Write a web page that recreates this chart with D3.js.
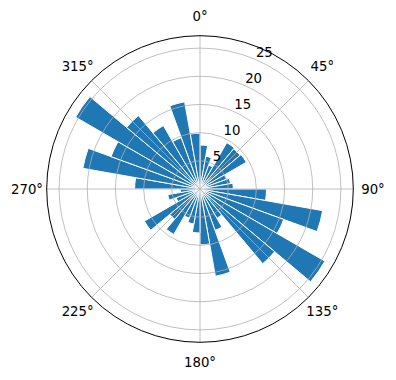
<!DOCTYPE html>
<html>
<head>
<meta charset="utf-8">
<script src="https://cdn.jsdelivr.net/npm/d3@7"></script>
<style>
  html, body { margin: 0; padding: 0; background: #fff; }
  svg { display: block; font-family: "DejaVu Sans", sans-serif; }
</style>
</head>
<body>
<svg id="chart" width="396" height="380"></svg>
<script>
// Bin start angles (degrees, clockwise from north) and bar lengths
const binStarts = [0,10,20,30,40,50,60,70,80,90,100,110,120,130,140,150,160,170,
                   180,190,200,210,220,230,240,250,260,270,280,290,300,310,320,330,340,350];
const counts = [7.8,5.9,4.5,9.5,9.3,9.5,5.0,5.5,5.9,11.8,22.1,15.8,25.6,17.3,6.0,7.8,15.7,9.9,
                7.8,6.3,5.5,9.3,7.0,11.4,4.5,5.8,3.5,11.6,21.1,16.8,25.5,17.0,13.0,9.7,15.7,9.9];
const binWidth = 10;
const radialTicks = [5,10,15,20,25];
const angleTicks = [0,45,90,135,180,225,270,315];
const rMax = 27.2;

const svg = d3.select("#chart");
const cx = 200, cy = 189, R = 153.3;
const g = svg.append("g").attr("transform", `translate(${cx},${cy})`);
const r = d3.scaleLinear().domain([0, rMax]).range([0, R]);
const rad = d => d * Math.PI / 180;

// bars
const arc = d3.arc().innerRadius(0);
g.selectAll("path.bar").data(binStarts.map((s, i) => ({s, v: counts[i]})))
  .enter().append("path")
  .attr("class", "bar")
  .attr("d", d => arc({outerRadius: r(d.v), startAngle: rad(d.s), endAngle: rad(d.s + binWidth)}))
  .attr("fill", "#1f77b4")
  .attr("stroke", "#ffffff")
  .attr("stroke-width", 1);

// grid circles
g.selectAll("circle.grid").data(radialTicks).enter().append("circle")
  .attr("r", d => r(d)).attr("fill", "none")
  .attr("stroke", "#b0b0b0").attr("stroke-width", 0.8);

// radial spokes
g.selectAll("line.spoke").data(angleTicks).enter().append("line")
  .attr("x1", 0).attr("y1", 0)
  .attr("x2", d => R * Math.sin(rad(d)))
  .attr("y2", d => -R * Math.cos(rad(d)))
  .attr("stroke", "#b0b0b0").attr("stroke-width", 0.8);

// outer frame
g.append("circle").attr("r", R).attr("fill", "none")
  .attr("stroke", "#000").attr("stroke-width", 1);

// angle labels
const labR = 173;
g.selectAll("text.ang").data(angleTicks).enter().append("text")
  .attr("x", d => labR * Math.sin(rad(d)))
  .attr("y", d => -labR * Math.cos(rad(d)))
  .attr("text-anchor", "middle")
  .attr("dominant-baseline", "central")
  .attr("font-size", "13.3px")
  .attr("fill", "#000")
  .text(d => d + "°");

// radial labels at 22.5°
const rl = rad(22.5);
g.selectAll("text.rl").data(radialTicks).enter().append("text")
  .attr("x", d => r(d) * Math.sin(rl) + 2)
  .attr("y", d => -r(d) * Math.cos(rl) - 2)
  .attr("text-anchor", "start")
  .attr("font-size", "13.3px")
  .attr("fill", "#000")
  .text(d => d);
</script>
</body>
</html>
